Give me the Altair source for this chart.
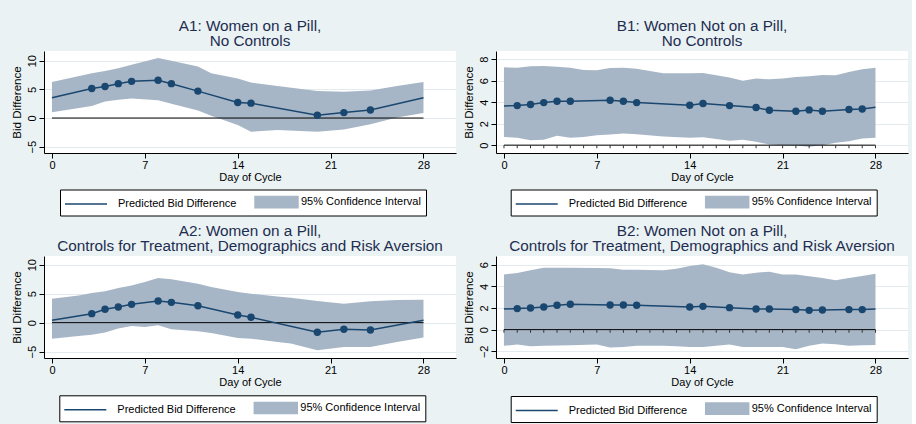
import altair as alt
import pandas as pd

NAVY = "#1a476f"
BAND = "#a7b6c6"
BG = "#eaf2f3"
TITLE_C = "#1e2d50"
GRID_C = "#e2eaee"
FONT = "Liberation Sans"

PRED = "Predicted Bid Difference"
CI = "95% Confidence Interval"

# ---- A1: women on a pill, no controls ----
a1_days = [0, 3, 4, 5, 6, 8, 9, 11, 14, 15, 20, 22, 24, 28]
a1_pred = [3.55, 5.15, 5.5, 6.0, 6.4, 6.6, 6.0, 4.7, 2.7, 2.6, 0.5, 0.95, 1.4, 3.55]
a1_band_days = [0, 3, 4, 5, 6, 8, 9, 11, 12, 14, 15, 17, 20, 22, 24, 26, 28]
a1_lo = [1.0, 2.1, 2.9, 3.2, 3.4, 3.1, 2.5, 1.3, 0.4, -1.2, -2.4, -2.1, -2.4, -2.0, -1.1, 0.1, 0.9]
a1_hi = [6.3, 7.8, 8.2, 8.7, 9.3, 10.5, 10.0, 9.0, 7.8, 6.9, 6.2, 5.6, 4.7, 4.6, 4.8, 5.6, 6.3]

# ---- B1: women not on a pill, no controls ----
b1_days = [0, 1, 2, 3, 4, 5, 8, 9, 10, 14, 15, 17, 19, 20, 22, 23, 24, 26, 27, 28]
b1_pred = [3.65, 3.68, 3.78, 3.96, 4.09, 4.09, 4.18, 4.09, 3.96, 3.72, 3.87, 3.68,
           3.5, 3.25, 3.16, 3.28, 3.16, 3.31, 3.37, 3.53]
b1_band_days = [0, 1, 2, 3, 4, 5, 6, 7, 8, 9, 10, 12, 14, 15, 17, 18, 19, 20, 21,
                22, 23, 24, 25, 26, 27, 28]
b1_lo = [0.77, 0.68, 0.46, 0.5, 0.87, 0.68, 0.77, 0.93, 0.99, 1.08, 1.02, 0.8, 0.68,
         0.74, 0.4, 0.5, 0.31, 0.06, 0.0, -0.03, -0.15, 0.0, 0.22, 0.37, 0.62, 0.68]
b1_hi = [7.25, 7.2, 7.34, 7.37, 7.3, 7.2, 7.0, 6.97, 7.18, 7.2, 7.1, 6.69, 6.69,
         6.72, 6.3, 6.0, 6.19, 6.13, 6.2, 6.35, 6.4, 6.53, 6.5, 6.8, 7.06, 7.2]

# ---- A2: women on a pill, with controls ----
a2_days = [0, 3, 4, 5, 6, 8, 9, 11, 14, 15, 20, 22, 24, 28]
a2_pred = [0.4, 1.55, 2.3, 2.7, 3.16, 3.74, 3.5, 2.93, 1.32, 0.92, -1.67, -1.15, -1.26, 0.4]
a2_band_days = [0, 2, 3, 4, 5, 6, 7, 8, 9, 11, 12, 14, 15, 17, 18, 20, 22, 24, 26, 28]
a2_lo = [-2.76, -2.3, -2.07, -1.72, -1.03, -0.57, -0.75, -0.46, -1.15, -1.5, -1.78,
         -2.64, -2.76, -3.33, -3.6, -4.77, -4.2, -4.2, -3.33, -2.58]
a2_hi = [4.14, 4.7, 5.1, 5.4, 6.0, 6.4, 7.0, 7.7, 7.47, 6.7, 6.15, 5.3, 5.0, 4.5,
         4.3, 3.74, 3.28, 3.7, 3.9, 3.97]

# ---- B2: women not on a pill, with controls ----
b2_days = [0, 1, 2, 3, 4, 5, 8, 9, 10, 14, 15, 17, 19, 20, 22, 23, 24, 26, 27, 28]
b2_pred = [1.9, 1.94, 2.0, 2.09, 2.25, 2.34, 2.28, 2.28, 2.25, 2.09, 2.15, 2.03,
           1.9, 1.9, 1.85, 1.78, 1.82, 1.85, 1.85, 1.9]
b2_band_days = [0, 1, 2, 3, 5, 7, 8, 9, 10, 12, 13, 14, 15, 16, 17, 18, 19, 20, 21,
                22, 23, 24, 25, 26, 27, 28]
b2_lo = [-1.5, -1.38, -1.54, -1.48, -1.45, -1.38, -1.66, -1.6, -1.48, -1.48, -1.54,
         -1.6, -1.6, -1.5, -1.38, -1.6, -1.6, -1.6, -1.6, -1.82, -1.48, -1.29, -1.35,
         -1.48, -1.45, -1.42]
b2_hi = [5.1, 5.23, 5.48, 5.72, 5.72, 5.7, 5.66, 5.54, 5.54, 5.48, 5.63, 5.88, 6.03,
         5.72, 5.29, 5.1, 5.26, 5.35, 5.1, 5.08, 4.92, 4.77, 4.55, 4.77, 4.95, 5.17]

# day ticks along the zero line (non-pill panels)
rug_days = [0, 1, 2, 3, 4, 5, 6, 7, 8, 9, 10, 11, 12, 13, 14, 15, 16, 17, 18, 19,
            20, 21, 22, 23, 24, 25, 26, 27, 28]

x_ticks = [0, 7, 14, 21, 28]
x_domain = [-0.6, 30.45]

# legend keys: a long stroke for the estimate, a flat box for the interval
KEY_SHAPE = (f"datum.value == '{PRED}' ? 'M-4.07,0H1.93' "
             f": 'M-3.07,-0.8H3.07V0.8H-3.07Z'")


def panel(title, days, pred, bdays, lo, hi, ydom, yticks, legend_xy, rug=False):
    band_df = pd.DataFrame({"day": bdays, "lo": lo, "hi": hi, "series": CI})
    line_df = pd.DataFrame({"day": days, "pred": pred, "series": PRED})
    zero_df = pd.DataFrame({"x0": [0], "x1": [28], "y0": [0]})

    x_axis = alt.Axis(values=x_ticks, format="d", tickSize=5, labelPadding=1,
                      labelFontSize=11, titleFontSize=11, titlePadding=1,
                      labelFont=FONT, titleFont=FONT, titleFontWeight="normal",
                      domainColor="black", tickColor="black", labelColor="black",
                      titleColor="black", grid=False, labelOverlap=False,
                      labelFlush=False)
    y_axis = alt.Axis(values=yticks, format="d", labelAngle=270, labelAlign="center",
                      labelBaseline="bottom", tickSize=5, labelPadding=2,
                      labelFontSize=11, titleFontSize=11.6, titlePadding=4,
                      labelFont=FONT, titleFont=FONT, titleFontWeight="normal",
                      domainColor="black", tickColor="black", labelColor="black",
                      titleColor="black", grid=True, gridColor=GRID_C,
                      labelOverlap=False)
    xs = alt.Scale(domain=x_domain, nice=False, zero=False)
    ys = alt.Scale(domain=ydom, nice=False, zero=False)

    legend = alt.Legend(
        title=None, orient="none", legendX=legend_xy[0], legendY=legend_xy[1],
        direction="horizontal", fillColor="white", strokeColor="black",
        padding=4.5, columnPadding=11, labelOffset=16.5, symbolOffset=21,
        labelFont=FONT, labelFontSize=11, labelColor="black",
        symbolType=alt.ExprRef(expr=KEY_SHAPE),
        symbolSize=196, symbolStrokeWidth=1.5, symbolOpacity=1,
    )
    color = alt.Color("series:N",
                      scale=alt.Scale(domain=[PRED, CI], range=[NAVY, BAND]),
                      legend=legend)

    band = alt.Chart(band_df).mark_area(opacity=1).encode(
        x=alt.X("day:Q", scale=xs, axis=x_axis, title="Day of Cycle"),
        y=alt.Y("lo:Q", scale=ys, axis=y_axis, title="Bid Difference"),
        y2="hi:Q",
        color=color,
    )
    zero = alt.Chart(zero_df).mark_rule(color="black", strokeWidth=1).encode(
        x=alt.X("x0:Q", scale=xs, axis=x_axis, title="Day of Cycle"),
        x2="x1:Q",
        y=alt.Y("y0:Q", scale=ys, axis=y_axis, title="Bid Difference"),
    )
    line = alt.Chart(line_df).mark_line(strokeWidth=1.5).encode(
        x=alt.X("day:Q", scale=xs, axis=x_axis, title="Day of Cycle"),
        y=alt.Y("pred:Q", scale=ys, axis=y_axis, title="Bid Difference"),
        color=color,
    )
    pts = alt.Chart(line_df).mark_circle(size=55, color=NAVY, opacity=1).encode(
        x=alt.X("day:Q", scale=xs, axis=x_axis, title="Day of Cycle"),
        y=alt.Y("pred:Q", scale=ys, axis=y_axis, title="Bid Difference"),
    ).transform_filter("datum.day > 0 && datum.day < 28")

    layers = [band, zero, line, pts]
    if rug:
        rug_df = pd.DataFrame({"day": rug_days, "y0": 0})
        layers.append(
            alt.Chart(rug_df).mark_tick(orient="vertical", size=3, thickness=1,
                                        color="#333333", yOffset=1.5, opacity=1).encode(
                x=alt.X("day:Q", scale=xs, axis=x_axis, title="Day of Cycle"),
                y=alt.Y("y0:Q", scale=ys, axis=y_axis, title="Bid Difference"),
            )
        )
    return alt.layer(*layers).properties(
        width=412, height=102,
        title=alt.TitleParams(text=title, fontSize=15.3, font=FONT,
                              fontWeight="normal", color=TITLE_C, anchor="middle",
                              offset=-13.5, baseline="bottom", lineHeight=15.5,
                              frame="group"),
    )


a1 = panel(["A1: Women on a Pill,", "No Controls"], a1_days, a1_pred, a1_band_days,
           a1_lo, a1_hi, [-6.1, 11.7], [-5, 0, 5, 10], (16, 138.5))
b1 = panel(["B1: Women Not on a Pill,", "No Controls"], b1_days, b1_pred, b1_band_days,
           b1_lo, b1_hi, [-0.73, 8.76], [0, 2, 4, 6, 8], (14.7, 138.5), rug=True)
a2 = panel(["A2: Women on a Pill,",
            "Controls for Treatment, Demographics and Risk Aversion"],
           a2_days, a2_pred, a2_band_days, a2_lo, a2_hi, [-6.1, 11.5],
           [-5, 0, 5, 10], (15.3, 139.3))
b2 = panel(["B2: Women Not on a Pill,",
            "Controls for Treatment, Demographics and Risk Aversion"],
           b2_days, b2_pred, b2_band_days, b2_lo, b2_hi, [-2.62, 6.8],
           [-2, 0, 2, 4, 6], (14.7, 140), rug=True)

chart = alt.concat(
    a1, b1, a2, b2, columns=2, bounds="flush",
    spacing={"row": 103, "column": 40},
).resolve_scale(
    color="independent", x="independent", y="independent"
).resolve_legend(
    color="independent"
).properties(
    background=BG,
    padding={"left": 11, "top": 18, "right": 4, "bottom": 4},
).configure_view(
    fill="white", strokeWidth=0
)

chart.save("out.html", embed_options={"renderer": "svg", "actions": False})
